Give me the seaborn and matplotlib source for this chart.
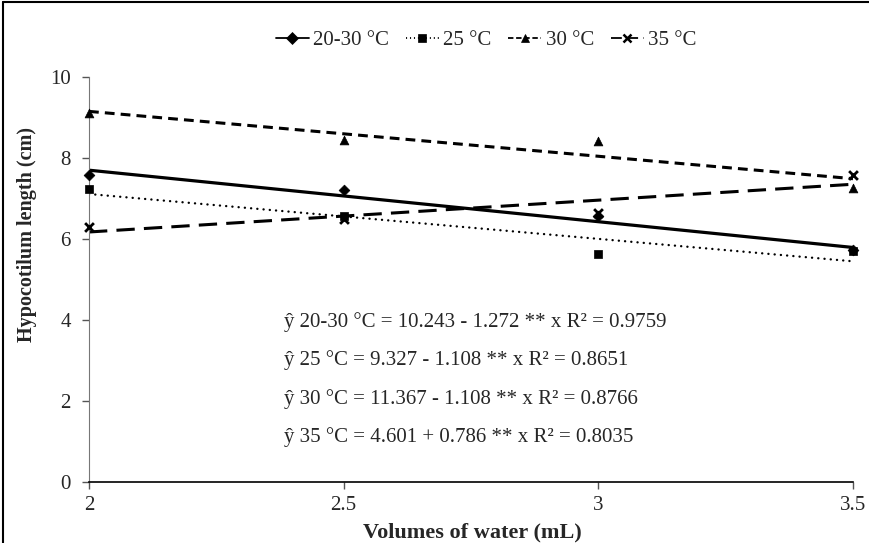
import matplotlib
matplotlib.use("Agg")
import matplotlib.pyplot as plt
import seaborn as sns
import numpy as np
import pandas as pd
from matplotlib.lines import Line2D

volumes = [2.0, 2.5, 3.0, 3.5]
series_names = ["20-30 °C", "25 °C", "30 °C", "35 °C"]
obs_2030 = [7.57, 7.20, 6.57, 5.72]
obs_25 = [7.24, 6.56, 5.62, 5.70]
obs_30 = [9.10, 8.45, 8.42, 7.27]
obs_35 = [6.30, 6.50, 6.63, 7.58]
intercepts = [10.243, 9.327, 11.367, 4.601]
slopes = [-1.272, -1.108, -1.108, 0.786]
r2 = [0.9759, 0.8651, 0.8766, 0.8035]
eq_labels = [
    "ŷ 20-30 °C = 10.243 - 1.272 ** x R² = 0.9759",
    "ŷ 25 °C = 9.327 - 1.108 ** x R² = 0.8651",
    "ŷ 30 °C = 11.367 - 1.108 ** x R² = 0.8766",
    "ŷ 35 °C = 4.601 + 0.786 ** x R² = 0.8035",
]

sns.set_style("ticks")
plt.rcParams["font.family"] = ["Liberation Serif", "DejaVu Serif"]

fig = plt.figure(figsize=(8.69, 5.43), dpi=100)
ax = fig.add_axes([89/869, 1-482/543, (853-89)/869, (482-77)/543])

observed = [obs_2030, obs_25, obs_30, obs_35]
markers = ["D", "s", "^", "x"]
msizes = [30, 40, 40, 40]
styles = [
    dict(ls="-", lw=2.3),
    dict(ls=(0, (0.05, 2.6)), lw=1.7, dash_capstyle="round"),
    dict(ls=(0, (3.2, 2.0)), lw=2.2),
    dict(ls=(0, (6.0, 3.0)), lw=2.2),
]
legend_ls = ["-", (0, (0.6, 1.6)), (0, (3.0, 1.5)), (0, (6.0, 3.0))]

xs = np.array([volumes[0], volumes[-1]])
for i, name in enumerate(series_names):
    fit = pd.DataFrame({"x": xs, "y": intercepts[i] + slopes[i] * xs})
    sns.lineplot(data=fit, x="x", y="y", ax=ax, color="black", **styles[i])
    pts = pd.DataFrame({"x": volumes, "y": observed[i]})
    kw = dict(linewidth=2) if markers[i] == "x" else dict(edgecolor="black", linewidth=0.5)
    sns.scatterplot(data=pts, x="x", y="y", ax=ax, marker=markers[i], color="black",
                    s=msizes[i], zorder=5, clip_on=False, **kw)

ax.set_xlim(2, 3.5)
ax.set_ylim(0, 10)
ax.set_xticks([2, 2.5, 3, 3.5])
ax.set_xticklabels(["2", "2.5", "3", "3.5"])
ax.set_yticks([0, 2, 4, 6, 8, 10])
ax.tick_params(axis="both", labelsize=15, length=5, width=1, color="#555555", direction="out")
ax.tick_params(axis="x", pad=5)
ax.tick_params(axis="y", pad=8)
for s in ["top", "right"]:
    ax.spines[s].set_visible(False)
ax.spines["left"].set_color("#777777")
ax.spines["bottom"].set_color("black")
ax.spines["bottom"].set_linewidth(1.2)

ax.set_xlabel("")
ax.set_ylabel("")
fig.text(472/869, 1-532/543, "Volumes of water (mL)", fontsize=16, fontweight="bold",
         ha="center", va="center")
fig.text(27/869, 1-235/543, "Hypocotilum length (cm)", fontsize=14.5, fontweight="bold",
         ha="center", va="center", rotation=90)

eq_y = [322, 360, 399, 437]
for lab, yp in zip(eq_labels, eq_y):
    fig.text(284/869, 1-yp/543, lab, fontsize=15, va="center", ha="left")

handles = []
for i, name in enumerate(series_names):
    handles.append(Line2D([0], [0], color="black", linestyle=legend_ls[i], linewidth=1.3,
                          marker=markers[i], markersize=6,
                          markeredgewidth=1.8 if markers[i] == "x" else 0.5))
fig.legend(handles, series_names, loc="center", bbox_to_anchor=(486/869, 1-40/543),
           ncol=4, frameon=False, fontsize=15, handlelength=1.6, columnspacing=0.8,
           handletextpad=0.2, numpoints=1)

# frame lines at top and left of the figure
fig.add_artist(Line2D([0.003, 0.003], [0, 0.996], transform=fig.transFigure,
                      color="black", linewidth=1.5))
fig.add_artist(Line2D([0.003, 1.0], [0.996, 0.996], transform=fig.transFigure,
                      color="black", linewidth=1.5))

fig.savefig("out.png", dpi=100)
